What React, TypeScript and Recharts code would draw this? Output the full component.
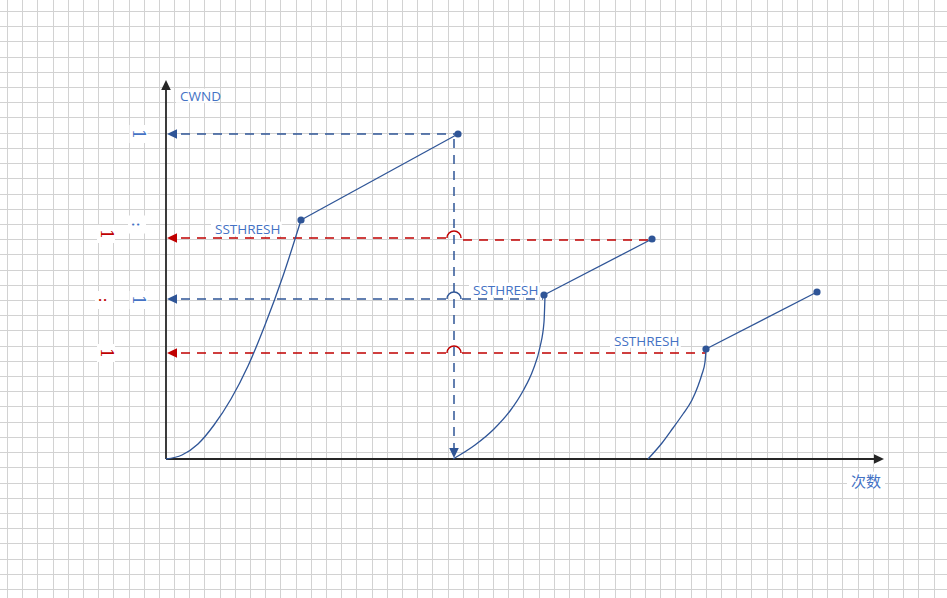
import { CartesianGrid, ComposedChart, Line, ReferenceDot, ReferenceLine, XAxis, YAxis } from "recharts";

const W = 947;
const H = 598;

// x: rounds, y: cwnd (schematic units)
const slowStart1 = [
  { x: 0, y: 0 }, { x: 1.6, y: 0.4 }, { x: 3.2, y: 1.5 }, { x: 4.8, y: 3.4 },
  { x: 6.5, y: 6.0 }, { x: 8.2, y: 9.3 }, { x: 9.9, y: 13.4 }, { x: 11.7, y: 18.3 },
  { x: 13.5, y: 23.9 },
];
const avoid1 = [{ x: 13.5, y: 23.9 }, { x: 29.2, y: 32.5 }];

const slowStart2 = [
  { x: 28.7, y: 0 }, { x: 30.9, y: 1.4 }, { x: 32.8, y: 3.0 }, { x: 34.4, y: 4.8 },
  { x: 35.7, y: 6.8 }, { x: 36.7, y: 8.9 }, { x: 37.4, y: 11.2 }, { x: 37.8, y: 13.7 },
  { x: 37.9, y: 16.3 },
];
const avoid2 = [{ x: 37.8, y: 16.4 }, { x: 48.6, y: 22.0 }];

const slowStart3 = [
  { x: 48.2, y: 0 }, { x: 49.6, y: 1.6 }, { x: 50.7, y: 3.1 }, { x: 51.7, y: 4.5 },
  { x: 52.6, y: 5.9 }, { x: 53.2, y: 7.3 }, { x: 53.6, y: 8.5 }, { x: 53.9, y: 9.7 },
  { x: 54.0, y: 10.9 },
];
const avoid3 = [{ x: 54.0, y: 11.0 }, { x: 65.1, y: 16.7 }];

// dashed guides
const blueGuides = [
  [{ x: 1.5, y: 32.5 }, { x: 29.2, y: 32.5 }],
  [{ x: 1.5, y: 16.0 }, { x: 28.0, y: 16.0 }],
  [{ x: 29.6, y: 16.0 }, { x: 37.7, y: 16.0 }],
  [{ x: 28.8, y: 32.0 }, { x: 28.8, y: 1.1 }],
];
const redGuides = [
  [{ x: 1.5, y: 22.1 }, { x: 28.0, y: 22.1 }],
  [{ x: 29.7, y: 21.9 }, { x: 48.6, y: 21.9 }],
  [{ x: 1.5, y: 10.6 }, { x: 28.0, y: 10.6 }],
  [{ x: 29.6, y: 10.6 }, { x: 54.0, y: 10.6 }],
];
const axisLines = [
  [{ x: 0, y: 0 }, { x: 0, y: 37.0 }],
  [{ x: 0, y: 0 }, { x: 70.8, y: 0 }],
];
const hops = [
  { x: 28.8, y: 22.1, c: "red" },
  { x: 28.8, y: 16.0, c: "blue" },
  { x: 28.8, y: 10.6, c: "red" },
];
const arrows = [
  { x: 0.1, y: 32.5, dir: "left", c: "blue" },
  { x: 0.1, y: 22.1, dir: "left", c: "red" },
  { x: 0.1, y: 16.0, dir: "left", c: "blue" },
  { x: 0.1, y: 10.6, dir: "left", c: "red" },
  { x: 28.8, y: 0.1, dir: "down", c: "blue" },
  { x: 0, y: 37.9, dir: "up", c: "axis" },
  { x: 71.8, y: 0, dir: "right", c: "axis" },
];
const labels = [
  { text: "CWND", x: 1.4, y: 36.3, size: 13.5 },
  { text: "SSTHRESH", x: 4.9, y: 23.0, size: 13.5 },
  { text: "SSTHRESH", x: 30.7, y: 16.9, size: 13.5 },
  { text: "SSTHRESH", x: 44.8, y: 11.8, size: 13.5 },
  { text: "次数", x: 68.5, y: -2.1, size: 15 },
];
const sideGlyphs = [
  { text: "1", x: -2.75, y: 32.5, c: "text" },
  { text: ":", x: -2.9, y: 23.45, c: "text" },
  { text: "1", x: -2.75, y: 15.9, c: "text" },
  { text: "1", x: -6.0, y: 22.5, c: "red" },
  { text: ":", x: -6.2, y: 15.9, c: "red" },
  { text: "1", x: -6.0, y: 10.6, c: "red" },
];

const colors: Record<string, string> = {
  blue: "#2F5597",
  red: "#C00000",
  axis: "#262626",
  text: "#4472C4",
  grid: "#d2d2d2",
};

const vGrid = Array.from({ length: 63 }, (_, k) => Math.round(7 + 15.19 * k) + 0.5);
const hGrid = Array.from({ length: 39 }, (_, k) => Math.round(11 + 15.21 * k) + 0.5);

const Arrow = (props: any, dir: string, color: string) => {
  const { cx, cy } = props;
  const L = 10;
  const h = 4.8;
  let d = "";
  if (dir === "left") d = `M${cx},${cy} L${cx + L},${cy - h} L${cx + L},${cy + h} Z`;
  if (dir === "right") d = `M${cx},${cy} L${cx - L},${cy - h} L${cx - L},${cy + h} Z`;
  if (dir === "up") d = `M${cx},${cy} L${cx - h},${cy + L} L${cx + h},${cy + L} Z`;
  if (dir === "down") d = `M${cx},${cy} L${cx - h},${cy - L} L${cx + h},${cy - L} Z`;
  return <path d={d} fill={color} stroke="none" />;
};

const Hop = (props: any, color: string) => {
  const { cx, cy } = props;
  const r = 7;
  return (
    <path
      d={`M${cx - r},${cy} A${r},${r} 0 0 1 ${cx + r},${cy}`}
      fill="none"
      stroke={color}
      strokeWidth={1.5}
    />
  );
};

const TextBox = (props: any, text: string, size: number) => {
  const { cx, cy } = props;
  const fontFamily = text === "次数" ? "'Noto Sans CJK SC', sans-serif" : "'Open Sans', sans-serif";
  const w = text === "次数" ? size * 2 + 8 : text.length * size * 0.6 + 6;
  return (
    <g>
      <rect x={cx - 4} y={cy - size * 0.55} width={w} height={size * 1.05} fill="#fff" />
      <text x={cx} y={cy} dominantBaseline="central" fontSize={size} fontFamily={fontFamily} fill={colors.text}>
        {text}
      </text>
    </g>
  );
};

const Glyph = (props: any, text: string, color: string) => {
  const { cx, cy } = props;
  return (
    <g>
      <rect x={cx - 9} y={cy - 9} width={18} height={18} fill="#fff" />
      <text
        x={cx}
        y={cy}
        textAnchor="middle"
        dominantBaseline="central"
        fontSize={16}
        fontFamily="'DejaVu Serif', serif"
        fill={color}
        transform={`rotate(90 ${cx} ${cy})`}
      >
        {text}
      </text>
    </g>
  );
};

export default function App() {
  return (
    <div style={{ position: "absolute", left: 0, top: 0, width: W, height: H, background: "#fff" }}>
      <ComposedChart width={W} height={H} margin={{ top: 0, right: 0, bottom: 0, left: 0 }}>
        <CartesianGrid stroke={colors.grid} strokeWidth={1} verticalPoints={vGrid} horizontalPoints={hGrid} />
        <XAxis type="number" dataKey="x" domain={[-16.6, 78.1]} allowDataOverflow hide />
        <YAxis type="number" dataKey="y" domain={[-13.9, 45.9]} allowDataOverflow hide />

        {labels.map((l, i) => (
          <ReferenceDot key={`lab-${i}`} x={l.x} y={l.y} r={0} ifOverflow="visible"
            shape={(p: any) => TextBox(p, l.text, l.size)} />
        ))}
        {sideGlyphs.map((g, i) => (
          <ReferenceDot key={`gl-${i}`} x={g.x} y={g.y} r={0} ifOverflow="visible"
            shape={(p: any) => Glyph(p, g.text, colors[g.c])} />
        ))}

        {axisLines.map((s, i) => (
          <ReferenceLine key={`ax-${i}`} segment={s} stroke={colors.axis} strokeWidth={1.8} ifOverflow="visible" />
        ))}
        {blueGuides.map((s, i) => (
          <ReferenceLine key={`bg-${i}`} segment={s} stroke={colors.blue} strokeWidth={1.5}
            strokeDasharray="9 7" ifOverflow="visible" />
        ))}
        {redGuides.map((s, i) => (
          <ReferenceLine key={`rg-${i}`} segment={s} stroke={colors.red} strokeWidth={1.5}
            strokeDasharray="9 7" ifOverflow="visible" />
        ))}
        {hops.map((h, i) => (
          <ReferenceDot key={`hop-${i}`} x={h.x} y={h.y} r={0} ifOverflow="visible"
            shape={(p: any) => Hop(p, colors[h.c])} />
        ))}
        {arrows.map((a, i) => (
          <ReferenceDot key={`ar-${i}`} x={a.x} y={a.y} r={0} ifOverflow="visible"
            shape={(p: any) => Arrow(p, a.dir, colors[a.c])} />
        ))}

        {[slowStart1, slowStart2, slowStart3].map((d, i) => (
          <Line key={`ss-${i}`} data={d} dataKey="y" type="monotone" stroke={colors.blue}
            strokeWidth={1.3} dot={false} activeDot={false} isAnimationActive={false} />
        ))}
        {[avoid1, avoid2, avoid3].map((d, i) => (
          <Line key={`ca-${i}`} data={d} dataKey="y" type="linear" stroke={colors.blue}
            strokeWidth={1.3} dot={{ r: 3.6, fill: colors.blue, stroke: "none" }}
            activeDot={false} isAnimationActive={false} />
        ))}
      </ComposedChart>
    </div>
  );
}
